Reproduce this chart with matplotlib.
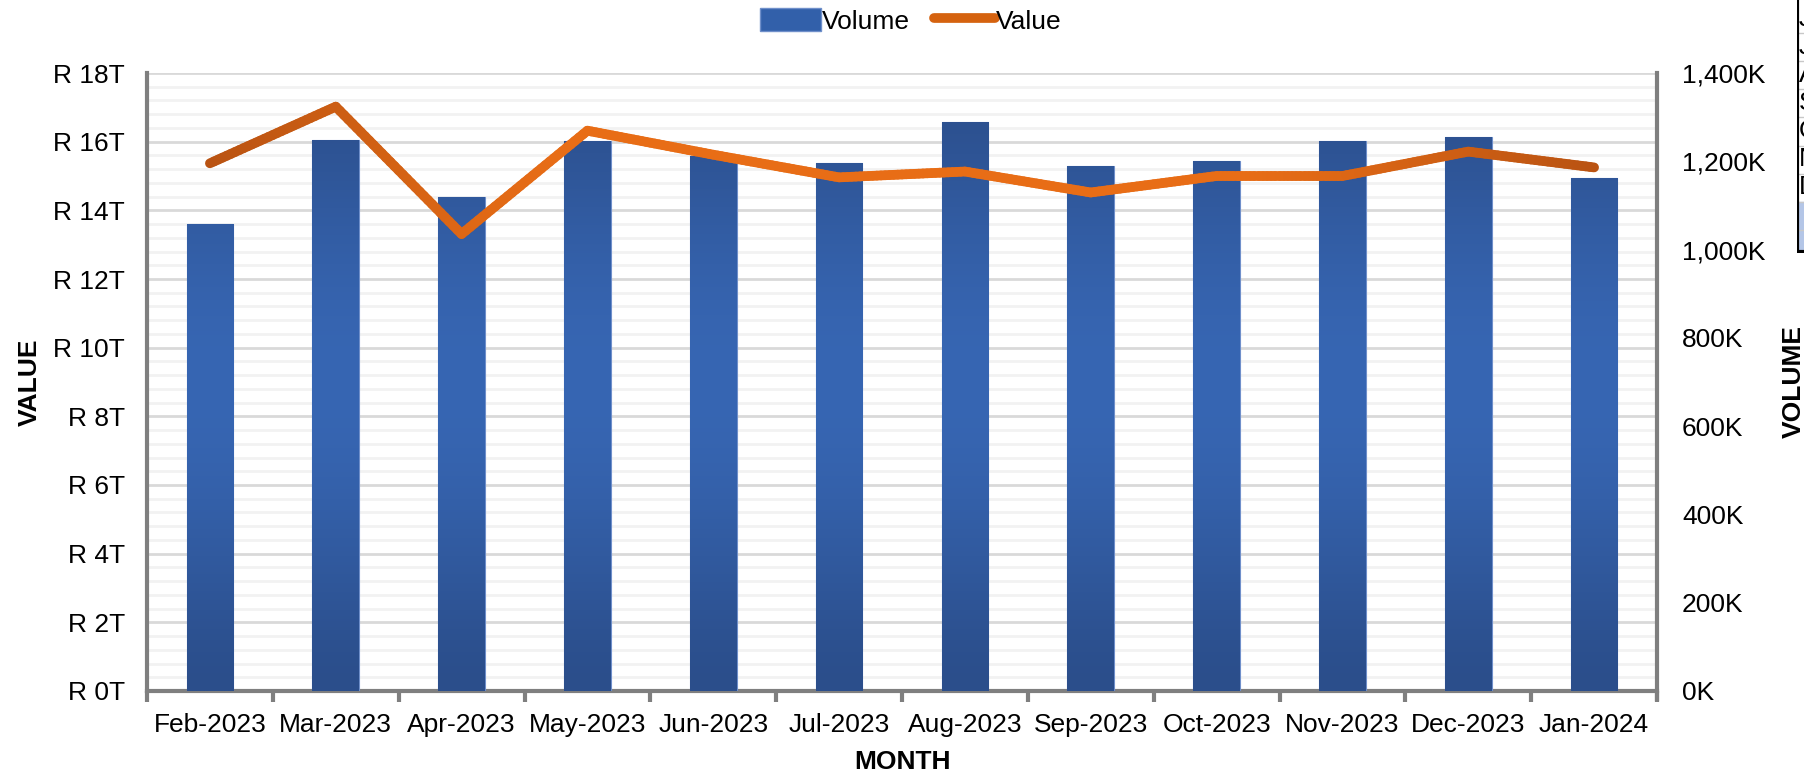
"""
Volume (bars) and Value (line) by month, twin axes
"""

import numpy as np
import matplotlib
matplotlib.use('Agg')
import matplotlib.pyplot as plt
from matplotlib.collections import LineCollection
from matplotlib.lines import Line2D
from matplotlib.patches import Patch
from matplotlib.ticker import FixedLocator, MultipleLocator, FuncFormatter
from matplotlib.colors import to_rgb

plt.rcParams['font.family'] = ['Liberation Sans', 'DejaVu Sans']

# data
months = ['Feb-2023', 'Mar-2023', 'Apr-2023', 'May-2023', 'Jun-2023', 'Jul-2023',
          'Aug-2023', 'Sep-2023', 'Oct-2023', 'Nov-2023', 'Dec-2023', 'Jan-2024']
volume_k = [1057, 1248, 1118, 1246, 1212, 1195, 1290, 1189, 1201, 1245, 1254, 1162]
value_t = [15.37, 17.02, 13.31, 16.32, 15.62, 14.96, 15.13, 14.52, 15.00, 15.00, 15.71, 15.25]

value_ticks = list(range(0, 19, 2))
volume_ticks = list(range(0, 1401, 200))
table_letters = ['J', 'J', 'A', 'S', 'O', 'N', 'D']

# colours
BAR_DARK = '#2b4e8b'
BAR_LIGHT = '#3766b3'
LINE_DARK = '#b95312'
LINE_LIGHT = '#e86d16'
AXIS_GREY = '#7f7f7f'
FS = 19

fig = plt.figure(figsize=(18.04, 7.74), dpi=100)
pos = [147 / 1804, 83 / 774, 1510 / 1804, 618 / 774]

# base axes: value scale, holds the grid
ax = fig.add_axes(pos)
# bars on volume scale
ax2 = ax.twinx()
# line on value scale, drawn on top of the bars
ax3 = ax.twinx()

x = np.arange(len(months))

# ---- grid on the value axes
ax.set_ylim(0, 18)
ax.set_xlim(-0.5, len(months) - 0.5)
ax.yaxis.set_major_locator(FixedLocator(value_ticks))
ax.yaxis.set_minor_locator(MultipleLocator(0.4))
ax.yaxis.set_major_formatter(FuncFormatter(lambda v, p: f'R {v:.0f}T'))
ax.grid(axis='y', which='major', color='#d9d9d9', lw=2)
ax.grid(axis='y', which='minor', color='#f2f2f2', lw=2)
ax.tick_params(axis='y', which='both', length=0, labelsize=FS, pad=16)
ax.set_ylabel('VALUE', fontsize=FS, fontweight='bold', labelpad=8)

ax.set_xticks(x)
ax.set_xticklabels(months, fontsize=FS)
ax.set_xticks(np.arange(len(months) + 1) - 0.5, minor=True)
ax.tick_params(axis='x', which='major', length=0, pad=16)
ax.tick_params(axis='x', which='minor', length=8, width=3, color=AXIS_GREY, direction='out')
ax.set_xlabel('MONTH', fontsize=FS, fontweight='bold', labelpad=9)

for a in (ax, ax2, ax3):
    for s in ('top', 'left', 'right', 'bottom'):
        a.spines[s].set_visible(False)
ax.spines['left'].set_visible(True)
ax.spines['bottom'].set_visible(True)
ax.spines['left'].set_color(AXIS_GREY)
ax.spines['left'].set_linewidth(3)
ax.spines['bottom'].set_color(AXIS_GREY)
ax.spines['bottom'].set_linewidth(3)

# ---- bars with vertical gradient (dark top/bottom, lighter middle)
ax2.patch.set_visible(False)
bars = ax2.bar(x, volume_k, width=0.37, color=BAR_DARK, edgecolor='#6f8fca', lw=0.8, zorder=2)
c_dark = np.array(to_rgb(BAR_DARK))
c_light = np.array(to_rgb(BAR_LIGHT))
h = np.linspace(0, 1, 256)
w = np.sin(np.pi * h) ** 1.5
grad = c_dark[None, :] * (1 - w[:, None]) + c_light[None, :] * w[:, None]
grad = grad[:, None, :]
for b in bars:
    im = ax2.imshow(grad, extent=(b.get_x(), b.get_x() + b.get_width(), 0, 1400),
                    origin='lower', aspect='auto', zorder=3, interpolation='bilinear')
    im.set_clip_path(b)
ax2.set_xlim(-0.5, len(months) - 0.5)
ax2.set_ylim(0, 1400)
ax2.yaxis.set_major_locator(FixedLocator(volume_ticks))
ax2.yaxis.set_major_formatter(FuncFormatter(lambda v, p: f'{v:,.0f}K'))
ax2.tick_params(axis='y', length=0, labelsize=FS, pad=18)
ax2.set_ylabel('VOLUME', fontsize=FS, fontweight='bold', labelpad=12)
ax2.spines['right'].set_visible(True)
ax2.spines['right'].set_color(AXIS_GREY)
ax2.spines['right'].set_linewidth(3)
ax2.spines['right'].set_bounds(-0.013 * 1400, 1400)

# ---- value line with horizontal gradient
ax3.patch.set_visible(False)
ax3.set_ylim(0, 18)
ax3.set_xlim(-0.5, len(months) - 0.5)
ax3.set_yticks([])
xs, ys = [], []
for i in range(len(x) - 1):
    t = np.linspace(0, 1, 30, endpoint=False)
    xs.append(x[i] + t * (x[i + 1] - x[i]))
    ys.append(value_t[i] + t * (value_t[i + 1] - value_t[i]))
xs.append([x[-1]])
ys.append([value_t[-1]])
xs = np.concatenate(xs)
ys = np.concatenate(ys)
pts = np.column_stack([xs, ys]).reshape(-1, 1, 2)
segs = np.concatenate([pts[:-1], pts[1:]], axis=1)
tt = (xs[:-1] - x[0]) / (x[-1] - x[0])
m = np.clip(np.sin(np.pi * tt) * 1.4, 0, 1)
l_dark = np.array(to_rgb(LINE_DARK))
l_light = np.array(to_rgb(LINE_LIGHT))
cols = l_dark[None, :] * (1 - m[:, None]) + l_light[None, :] * m[:, None]
lc = LineCollection(segs, colors=cols, linewidths=7, capstyle='round', joinstyle='round', zorder=4)
ax3.add_collection(lc)

# ---- legend
handles = [Patch(facecolor='#3260aa', edgecolor='#6f8fca'),
           Line2D([0], [0], color='#d5620f', lw=7, solid_capstyle='round')]
fig.legend(handles, ['Volume', 'Value'], loc='center', bbox_to_anchor=(0.505, 0.973),
           ncol=2, frameon=False, fontsize=FS, handlelength=2.3, handleheight=0.95,
           handletextpad=0.05, columnspacing=0.9)

# ---- cropped spreadsheet fragment at the top-right edge
tab = fig.add_axes([1797 / 1804, 1 - 253 / 774, 7 / 1804, 253 / 774])
tab.set_xlim(0, 1)
tab.set_ylim(253, 0)
tab.axis('off')
tab.axhspan(202, 253, color='#b4c6e7', zorder=0)
for yb in [33, 61, 89, 117, 146, 174, 202, 230]:
    tab.axhline(yb, color='#c8c8c8', lw=1)
tab.axvline(0, color='black', lw=3)
tab.axhline(252, color='black', lw=3)
for i, ch in enumerate(table_letters):
    tab.text(0.25, 19 + i * 28, ch, fontsize=FS, va='center', ha='left', clip_on=True)

fig.savefig('out.png', dpi=100)
